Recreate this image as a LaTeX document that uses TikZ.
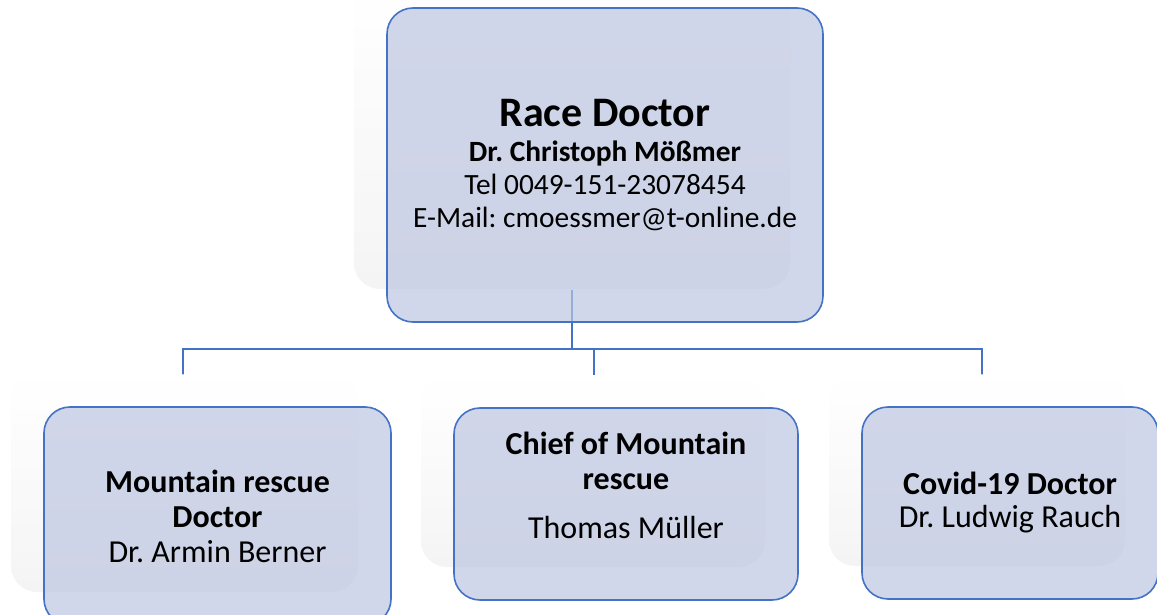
\documentclass[tikz,border=0pt]{standalone}
\usepackage{fontspec}
\setmainfont{Carlito}
\frenchspacing
\usetikzlibrary{shadows}
\definecolor{chartblue}{RGB}{68,114,196}
\definecolor{chartfill}{RGB}{189,198,225}
\tikzset{%
  chartbox/.style = {shape=rectangle, rounded corners=13pt,%
                     draw=chartblue, line width=0.8pt, fill=chartfill,%
                     fill opacity=0.7, draw opacity=1, text opacity=1,%
                     align=center, inner sep=0pt,%
                     general shadow={top color=white, bottom color=black!6,%
                       shadow xshift=-16.5pt, shadow yshift=16.5pt}},%
  head/.style     = {chartbox, minimum width=218pt, minimum height=157pt,%
                     font=\fontsize{14.7}{16.5}\selectfont},%
  member/.style   = {chartbox, minimum height=96pt,%
                     font=\fontsize{16}{17.5}\selectfont},%
  link/.style     = {draw=chartblue, line width=1.1pt}%
}

\begin{document}
\begin{tikzpicture}[x=0.5pt, y=-0.5pt]
  \useasboundingbox (0,0) rectangle (1157,615);
  \coordinate (trunk) at (572,290);
  \coordinate (bar) at (0,349);
  \coordinate (drop1) at (183,375);
  \coordinate (drop2) at (594,375);
  \coordinate (drop3) at (982,375);
  \draw[link] (trunk) -- (trunk |- bar);
  \draw[link] (drop1) |- (drop3 |- bar) -- (drop3);
  \draw[link] (drop2) -- (drop2 |- bar);

  \node[head] (race) at (605,165)
    {{\fontsize{21}{22}\selectfont\bfseries Race Doctor}\\[1pt]
     \textbf{Dr. Christoph Mößmer}\\
     Tel 0049-151-23078454\\
     E-Mail: cmoessmer@t-online.de};
  \node[member, minimum width=173.5pt, minimum height=109pt] (rescue) at (217.5,516)
    {\textbf{Mountain rescue}\\ \textbf{Doctor}\\ Dr. Armin Berner};
  \node[member, minimum width=172pt] (chief) at (626,504)
    {\textbf{Chief of Mountain}\\ \textbf{rescue}\\[7pt] Thomas Müller\\[1pt] ~};
  \node[member, minimum width=148pt, font=\fontsize{16}{16.5}\selectfont] (covid) at (1010,503)
    {\textbf{Covid-19 Doctor}\\ Dr. Ludwig Rauch};
\end{tikzpicture}
\end{document}
